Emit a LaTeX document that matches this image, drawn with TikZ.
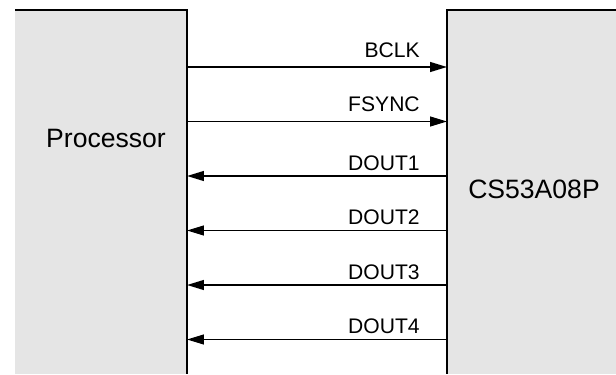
\documentclass[tikz,border=0pt]{standalone}
\usepackage{fontspec}
\setmainfont{Liberation Sans}
\usetikzlibrary{arrows.meta}
\definecolor{chipgray}{RGB}{229,229,229}
\tikzstyle{chip}=[fill=chipgray]
\tikzstyle{edge}=[line width=1.4pt]
\tikzstyle{sig}=[line width=1.1pt, -{Triangle[length=12pt,width=7pt]}]
\tikzstyle{siglabel}=[anchor=base east, inner sep=0pt, font=\fontsize{15}{18}\selectfont]
\tikzstyle{chipname}=[inner sep=0pt, font=\fontsize{18.9}{22}\selectfont]
\newcommand{\busline}[4]{
	\coordinate (p#1) at (187,#2);
	\coordinate (c#1) at (447,#2);
	\node[siglabel] (l#1) at (420,#2-#4) {#3};
}

\begin{document}
\begin{tikzpicture}[x=0.025cm, y=-0.025cm]
\useasboundingbox (0,0) rectangle (616,374);
%
	\fill[chip] (15,10) rectangle (187,374);
	\fill[chip] (447,10) rectangle (616,374);
	\draw[edge] (15,10) -- (187,10) -- (187,374);
	\draw[edge] (616,10) -- (447,10) -- (447,374);
	\node[chipname] (proc) at (106,138) {Processor};
	\node[chipname] (codec) at (534,189.5) {CS53A08P};
%
	\busline{1}{67}{BCLK}{9}
	\busline{2}{121.5}{FSYNC}{10.5}
	\busline{3}{176}{DOUT1}{6}
	\busline{4}{230.5}{DOUT2}{6}
	\busline{5}{285}{DOUT3}{6}
	\busline{6}{339.5}{DOUT4}{6}
%
	\draw[sig] (p1) -- (c1);
	\draw[sig] (p2) -- (c2);
	\foreach \i in {3,...,6}
		\draw[sig] (c\i) -- (p\i);
\end{tikzpicture}
\end{document}
